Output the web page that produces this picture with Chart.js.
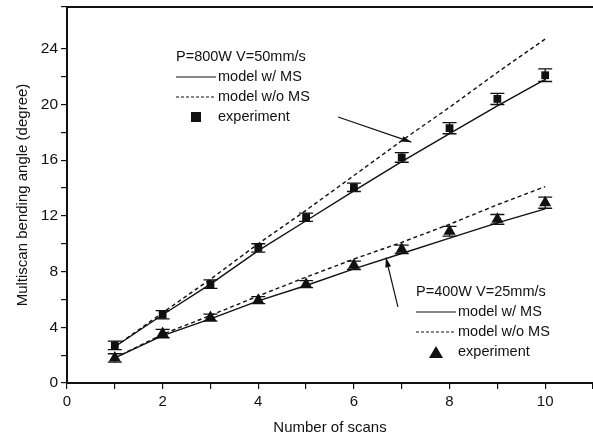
<!DOCTYPE html>
<html>
<head>
<meta charset="utf-8">
<script src="https://cdn.jsdelivr.net/npm/chart.js@4/dist/chart.umd.min.js"></script>
<style>
  html, body { margin: 0; padding: 0; background: #fff; }
  #chart { display: block; }
</style>
</head>
<body>
<canvas id="chart" width="593" height="437"></canvas>
<script>
const scans = [1, 2, 3, 4, 5, 6, 7, 8, 9, 10];

// P=800W V=50mm/s
const exp800 = [2.7, 4.9, 7.1, 9.7, 11.9, 14.05, 16.2, 18.3, 20.4, 22.1];
const err800 = [0.3, 0.3, 0.3, 0.3, 0.3, 0.3, 0.35, 0.4, 0.4, 0.45];
const withMS800 = [2.6, 4.9, 7.1, 9.5, 11.65, 13.8, 15.9, 17.9, 19.9, 21.8];
const withoutMS800 = [2.6, 5.05, 7.45, 10.0, 12.4, 14.9, 17.4, 19.8, 22.3, 24.7];

// P=400W V=25mm/s
const exp400 = [1.8, 3.55, 4.7, 5.95, 7.1, 8.45, 9.6, 10.9, 11.75, 12.95];
const err400 = [0.3, 0.3, 0.25, 0.25, 0.25, 0.3, 0.3, 0.35, 0.35, 0.4];
const withMS400 = [1.8, 3.4, 4.6, 5.9, 7.0, 8.2, 9.3, 10.4, 11.5, 12.5];
const withoutMS400 = [1.8, 3.5, 4.85, 6.25, 7.6, 8.9, 10.1, 11.4, 12.8, 14.1];

const FONT = 'Liberation Sans, Arial, sans-serif';
const INK = '#111';

const pts = vals => scans.map((x, i) => ({ x, y: vals[i] }));

// error bars and top frame line
const errorBars = {
  id: 'errorBars',
  afterDatasetsDraw(chart) {
    const { ctx, scales: { x, y }, chartArea } = chart;
    ctx.save();
    ctx.strokeStyle = INK;
    ctx.lineWidth = 1.3;
    [[exp800, err800], [exp400, err400]].forEach(([vals, errs]) => {
      vals.forEach((v, i) => {
        const px = x.getPixelForValue(scans[i]);
        const top = y.getPixelForValue(v + errs[i]);
        const bot = y.getPixelForValue(v - errs[i]);
        ctx.beginPath();
        ctx.moveTo(px, top); ctx.lineTo(px, bot);
        ctx.moveTo(px - 7, top); ctx.lineTo(px + 7, top);
        ctx.moveTo(px - 7, bot); ctx.lineTo(px + 7, bot);
        ctx.stroke();
      });
    });
    // top frame
    ctx.lineWidth = 2;
    ctx.beginPath();
    ctx.moveTo(chartArea.left, chartArea.top);
    ctx.lineTo(chartArea.right, chartArea.top);
    ctx.stroke();
    ctx.restore();
  }
};

// annotation arrows, given in data units
const arrows = [
  { from: [5.67, 19.1], to: [7.2, 17.3] },
  { from: [6.92, 5.46], to: [6.67, 9.0] }
];

function drawArrow(ctx, x1, y1, x2, y2) {
  const a = Math.atan2(y2 - y1, x2 - x1);
  ctx.beginPath();
  ctx.moveTo(x1, y1);
  ctx.lineTo(x2, y2);
  ctx.stroke();
  ctx.beginPath();
  ctx.moveTo(x2, y2);
  ctx.lineTo(x2 - 10 * Math.cos(a - 0.3), y2 - 10 * Math.sin(a - 0.3));
  ctx.lineTo(x2 - 10 * Math.cos(a + 0.3), y2 - 10 * Math.sin(a + 0.3));
  ctx.closePath();
  ctx.fill();
}

// the two in-plot legends
function drawLegend(ctx, left, top, title, marker) {
  ctx.font = '14.5px ' + FONT;
  ctx.fillStyle = INK;
  ctx.strokeStyle = INK;
  ctx.textBaseline = 'middle';
  ctx.textAlign = 'left';
  ctx.fillText(title, left, top);
  const tx = left + 42;
  // solid
  ctx.lineWidth = 1.2;
  ctx.setLineDash([]);
  ctx.beginPath(); ctx.moveTo(left, top + 20); ctx.lineTo(tx - 2, top + 20); ctx.stroke();
  ctx.fillText('model w/ MS', tx, top + 20);
  // dashed
  ctx.setLineDash([3, 2]);
  ctx.beginPath(); ctx.moveTo(left, top + 40); ctx.lineTo(tx - 2, top + 40); ctx.stroke();
  ctx.setLineDash([]);
  ctx.fillText('model w/o MS', tx, top + 40);
  // marker
  const mx = left + 20, my = top + 60;
  ctx.beginPath();
  if (marker === 'rect') {
    ctx.rect(mx - 5, my - 5, 10, 10);
  } else {
    ctx.moveTo(mx, my - 6); ctx.lineTo(mx + 7, my + 6); ctx.lineTo(mx - 7, my + 6); ctx.closePath();
  }
  ctx.fill();
  ctx.fillText('experiment', tx, my);
}

const annotations = {
  id: 'annotations',
  afterDraw(chart) {
    const { ctx, scales: { x, y } } = chart;
    ctx.save();
    ctx.strokeStyle = INK;
    ctx.fillStyle = INK;
    ctx.lineWidth = 1.2;
    arrows.forEach(ar => {
      drawArrow(ctx,
        x.getPixelForValue(ar.from[0]), y.getPixelForValue(ar.from[1]),
        x.getPixelForValue(ar.to[0]), y.getPixelForValue(ar.to[1]));
    });
    drawLegend(ctx, 176, 57, 'P=800W V=50mm/s', 'rect');
    drawLegend(ctx, 416, 292, 'P=400W V=25mm/s', 'triangle');
    ctx.restore();
  }
};

const lineStyle = (label, vals, dashed) => ({
  label,
  data: pts(vals),
  borderColor: INK,
  borderWidth: 1.4,
  borderDash: dashed ? [4, 3] : [],
  pointRadius: 0,
  fill: false,
  tension: 0
});

const markerStyle = (label, vals, style, r) => ({
  label,
  data: pts(vals),
  showLine: false,
  pointStyle: style,
  pointRadius: r,
  backgroundColor: INK,
  borderColor: INK,
  borderWidth: 0
});

new Chart(document.getElementById('chart'), {
  type: 'line',
  data: {
    datasets: [
      lineStyle('800W model w/ MS', withMS800, false),
      lineStyle('800W model w/o MS', withoutMS800, true),
      markerStyle('800W experiment', exp800, 'rect', 5.5),
      lineStyle('400W model w/ MS', withMS400, false),
      lineStyle('400W model w/o MS', withoutMS400, true),
      markerStyle('400W experiment', exp400, 'triangle', 7)
    ]
  },
  options: {
    responsive: false,
    animation: false,
    layout: { autoPadding: false, padding: { top: 7, right: 0, left: 0, bottom: 0 } },
    plugins: {
      legend: { display: false },
      tooltip: { enabled: false }
    },
    scales: {
      x: {
        type: 'linear',
        min: 0,
        max: 11,
        afterFit: s => { s.height = 54; s.paddingRight = 0; s.paddingLeft = 0; },
        border: { display: true, color: INK, width: 2 },
        grid: { drawOnChartArea: false, drawTicks: true, tickLength: 6, color: INK, lineWidth: 1.2 },
        ticks: {
          stepSize: 1,
          padding: 4,
          color: INK,
          font: { family: FONT, size: 15 },
          maxRotation: 0,
          callback: v => (v % 2 === 0 ? String(v) : '')
        },
        title: {
          display: true,
          text: 'Number of scans',
          color: INK,
          font: { family: FONT, size: 15 },
          padding: { top: 4, bottom: 0 }
        }
      },
      y: {
        min: 0,
        max: 27,
        afterFit: s => { s.width = 67; s.paddingTop = 0; s.paddingBottom = 0; },
        border: { display: true, color: INK, width: 2 },
        grid: { drawOnChartArea: false, drawTicks: true, tickLength: 6, color: INK, lineWidth: 1.2 },
        ticks: {
          stepSize: 2,
          padding: 3,
          color: INK,
          font: { family: FONT, size: 15.5 },
          callback: v => (v % 4 === 0 ? String(v) : '')
        },
        title: {
          display: true,
          text: 'Multiscan bending angle (degree)',
          color: INK,
          font: { family: FONT, size: 15 },
          padding: { top: 14, bottom: 0 }
        }
      }
    }
  },
  plugins: [errorBars, annotations]
});
</script>
</body>
</html>
